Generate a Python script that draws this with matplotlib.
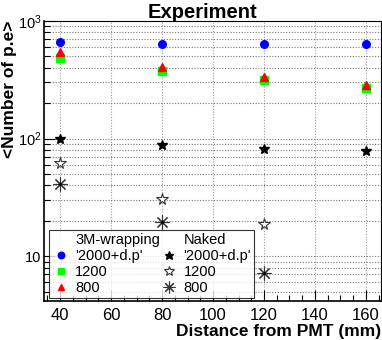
import matplotlib
matplotlib.use("Agg")
import matplotlib.pyplot as plt
from matplotlib.ticker import MultipleLocator, LogLocator, FixedLocator, NullFormatter, FixedFormatter

plt.rcParams['font.family'] = ['Liberation Sans', 'DejaVu Sans']
plt.rcParams['mathtext.fontset'] = 'custom'
plt.rcParams['mathtext.rm'] = 'Liberation Sans'
plt.rcParams['mathtext.it'] = 'Liberation Sans:italic'
plt.rcParams['mathtext.bf'] = 'Liberation Sans:bold'

dist = [40, 80, 120, 160]
wrap_2000 = [668, 634, 632, 632]
wrap_1200 = [489, 377, 314, 269]
wrap_800 = [550, 410, 331, 285]
dist_naked = [40, 80, 120, 160]
naked_2000 = [99, 87.7, 81.9, 78]
dist_naked_b = [40, 80, 120]
naked_1200 = [62, 30.4, 18.7]
naked_800 = [41.3, 19.5, 7.2]

fig = plt.figure(figsize=(3.82, 3.40), dpi=100)
ax = fig.add_axes([44/382, 1 - 301/340, (381 - 44)/382, (301 - 21)/340])
ax.set_yscale('log')
ax.set_xlim(33.7, 165.9)
ax.set_ylim(4.16, 1000)

# grid
for v in [40, 60, 80, 100, 120, 140, 160]:
    ax.axvline(v, color='#999999', lw=0.8, ls=(0, (1, 1.5)), zorder=0)
for dec in [1, 10, 100]:
    for m in range(1, 10):
        v = dec * m
        if 4.16 < v < 1000:
            ax.axhline(v, color='#777777', lw=0.8, ls=(0, (1, 1.5)), zorder=0)

h1, = ax.plot(dist, wrap_2000, 'o', color='#0000ff', ms=5.5, ls='none')
h2, = ax.plot(dist, wrap_1200, 's', color='#00ff00', ms=5.5, ls='none')
h3, = ax.plot(dist, wrap_800, '^', color='#ff0000', ms=5.5, ls='none')
h4, = ax.plot(dist_naked, naked_2000, '*', color='black', ms=7.5, ls='none')
h5, = ax.plot(dist_naked_b, naked_1200, '*', mfc='white', mec='#333333', mew=0.8, ms=8.5, ls='none')
h6, = ax.plot(dist_naked_b, naked_800, marker=(8, 2, 0), color='#333333', mew=0.8, ms=10, ls='none')
ax.plot(dist_naked_b, naked_800, '.', color='black', ms=2, ls='none')

ax.xaxis.set_major_locator(MultipleLocator(20))
ax.xaxis.set_minor_locator(MultipleLocator(5))
ax.yaxis.set_major_locator(FixedLocator([10, 100, 1000]))
ax.yaxis.set_major_formatter(FixedFormatter(['10', r'$10^2$', r'$10^3$']))
ax.yaxis.set_minor_locator(LogLocator(base=10, subs=range(2, 10)))
ax.yaxis.set_minor_formatter(NullFormatter())
ax.tick_params(which='both', direction='in', top=False, right=False)
ax.tick_params(axis='x', labelsize=12, pad=5)
ax.tick_params(axis='y', labelsize=10.5, pad=2)
ax.tick_params(which='major', length=8, width=0.8)
ax.tick_params(which='minor', length=4, width=0.8)
for s in ax.spines.values():
    s.set_linewidth(0.8)
ax.spines['left'].set_linewidth(1.2)
ax.spines['bottom'].set_linewidth(1.2)

fig.text(202/382, 1 - 3/340, 'Experiment', fontsize=14.5, fontweight='bold', ha='center', va='top')
fig.text(381/382, 1 - 336/340, 'Distance from PMT (mm)', fontsize=12.5, fontweight='bold',
         ha='right', va='baseline')
fig.text(17/382, 1 - 21/340, '<Number of p.e>', fontsize=12.5, fontweight='bold',
         ha='right', va='bottom', rotation=90, rotation_mode='anchor')

blank = plt.Line2D([], [], ls='none', marker='none')
handles = [blank, h1, h2, h3, blank, h4, h5, h6]
labels = ['3M-wrapping', "'2000+d.p'", '1200', '800', 'Naked', "'2000+d.p'", '1200', '800']
leg = ax.legend(handles, labels, ncol=2, loc='lower left',
                fontsize=10.5, frameon=True, fancybox=False, edgecolor='black',
                handletextpad=0.4, columnspacing=0.0, borderpad=0.2, labelspacing=0.15,
                handlelength=1.2, markerscale=0.85, borderaxespad=0)
leg.set_bbox_to_anchor((49/382, 1 - 298/340), transform=fig.transFigure)
leg.get_frame().set_linewidth(0.8)

fig.savefig('out.png', dpi=100)
